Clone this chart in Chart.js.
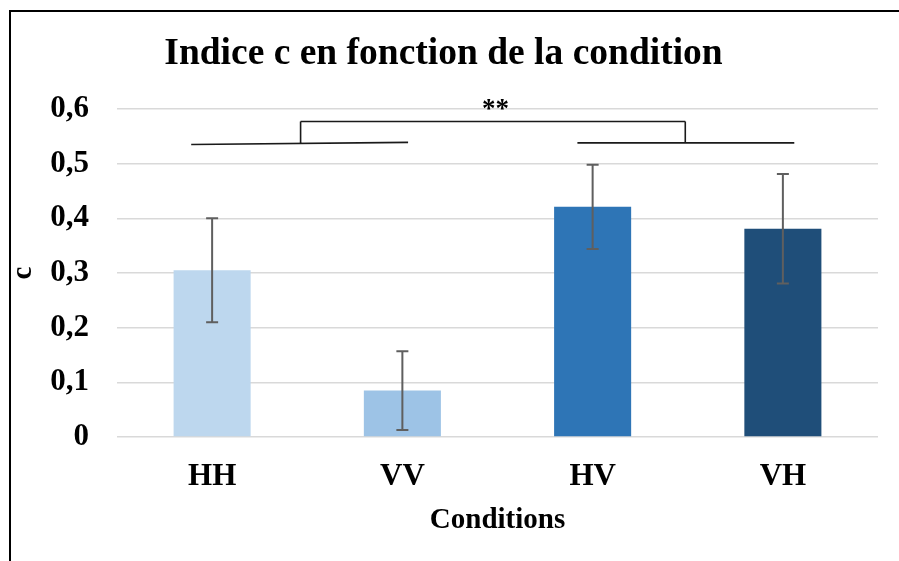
<!DOCTYPE html>
<html>
<head>
<meta charset="utf-8">
<script src="https://cdn.jsdelivr.net/npm/chart.js@4.4.1/dist/chart.umd.min.js"></script>
<style>
    html, body { margin: 0; padding: 0; background: #fff; }
    #wrap { position: relative; width: 899px; height: 561px; overflow: hidden; }
    #frame {
        position: absolute; left: 9px; top: 10px; right: -5px; bottom: -5px;
        border-left: 2px solid #000; border-top: 2px solid #000;
        pointer-events: none;
    }
    canvas { position: absolute; left: 0; top: 0; }
</style>
</head>
<body>
<div id="wrap">
    <canvas id="cChart" width="899" height="561"></canvas>
    <div id="frame"></div>
</div>
<script>
// --- data ---
const conditions = ['HH', 'VV', 'HV', 'VH'];
const cValues = [0.305, 0.085, 0.421, 0.381];
const cErrors = [0.095, 0.072, 0.077, 0.100];
const barColors = ['#BDD7EE', '#9DC3E6', '#2E75B6', '#1F4E79'];
const yTickLabels = ['0', '0,1', '0,2', '0,3', '0,4', '0,5', '0,6'];

// significance bracket, in data units: [x1, y1, x2, y2] (x = category index)
const bracketSegments = [
    [-0.11, 0.535, 1.03, 0.539],
    [0.465, 0.538, 0.465, 0.577],
    [0.465, 0.577, 2.487, 0.577],
    [2.487, 0.577, 2.487, 0.538],
    [1.92, 0.538, 3.06, 0.538]
];
const starLabel = '**';
const starPos = [1.49, 0.598];

const serif = "'Liberation Serif', 'Times New Roman', serif";

// --- error bars + bracket drawn over the bars ---
const overlayPlugin = {
    id: 'overlay',
    afterDatasetsDraw(chart) {
        const ctx = chart.ctx;
        const xs = chart.scales.x;
        const ys = chart.scales.y;
        const meta = chart.getDatasetMeta(0);

        ctx.save();
        ctx.strokeStyle = '#5f5f5f';
        ctx.lineWidth = 2;
        meta.data.forEach((bar, i) => {
            const top = ys.getPixelForValue(cValues[i] + cErrors[i]);
            const bot = ys.getPixelForValue(cValues[i] - cErrors[i]);
            ctx.beginPath();
            ctx.moveTo(bar.x, top);
            ctx.lineTo(bar.x, bot);
            ctx.moveTo(bar.x - 6, top);
            ctx.lineTo(bar.x + 6, top);
            ctx.moveTo(bar.x - 6, bot);
            ctx.lineTo(bar.x + 6, bot);
            ctx.stroke();
        });

        ctx.strokeStyle = '#1a1a1a';
        ctx.lineWidth = 1.6;
        ctx.beginPath();
        bracketSegments.forEach(s => {
            ctx.moveTo(xs.getPixelForValue(s[0]), ys.getPixelForValue(s[1]));
            ctx.lineTo(xs.getPixelForValue(s[2]), ys.getPixelForValue(s[3]));
        });
        ctx.stroke();

        ctx.fillStyle = '#000';
        ctx.font = 'bold 27px ' + serif;
        ctx.textAlign = 'center';
        ctx.textBaseline = 'middle';
        ctx.fillText(starLabel, xs.getPixelForValue(starPos[0]), ys.getPixelForValue(starPos[1]));
        ctx.restore();
    }
};

const ctx = document.getElementById('cChart').getContext('2d');
const cChart = new Chart(ctx, {
    type: 'bar',
    data: {
        labels: conditions,
        datasets: [{
            label: 'c',
            data: cValues,
            backgroundColor: barColors,
            borderWidth: 0,
            categoryPercentage: 1,
            barPercentage: 0.405
        }]
    },
    options: {
        responsive: false,
        animation: false,
        layout: {
            padding: { left: 9, right: 21, top: 0, bottom: 0 }
        },
        plugins: {
            legend: { display: false },
            tooltip: { enabled: false },
            title: {
                display: true,
                text: 'Indice c en fonction de la condition',
                color: '#000',
                font: { family: serif, size: 37.5, weight: 'bold', lineHeight: 1.2 },
                padding: { top: 32, bottom: 32 }
            }
        },
        scales: {
            x: {
                grid: { display: false, drawTicks: false },
                border: { display: false },
                ticks: {
                    color: '#000',
                    padding: 21,
                    font: { family: serif, size: 31, weight: 'bold', lineHeight: 1.2 }
                },
                title: {
                    display: true,
                    text: 'Conditions',
                    color: '#000',
                    font: { family: serif, size: 29, weight: 'bold', lineHeight: 1.2 },
                    padding: { top: 0, bottom: 23 }
                },
                afterFit: function(scale) { scale.height = 124; }
            },
            y: {
                min: 0,
                max: 0.6,
                grid: { color: '#d9d9d9', lineWidth: 1.5, drawTicks: false },
                border: { display: false },
                ticks: {
                    stepSize: 0.1,
                    color: '#000',
                    padding: 28,
                    font: { family: serif, size: 31, weight: 'bold' },
                    callback: function(value, index) {
                        return yTickLabels[index];
                    }
                },
                title: {
                    display: true,
                    text: 'c',
                    color: '#000',
                    font: { family: serif, size: 29, weight: 'bold', lineHeight: 1 },
                    padding: { top: 0, bottom: 0 }
                },
                afterFit: function(scale) { scale.width = 108; }
            }
        }
    },
    plugins: [overlayPlugin]
});
</script>
</body>
</html>
